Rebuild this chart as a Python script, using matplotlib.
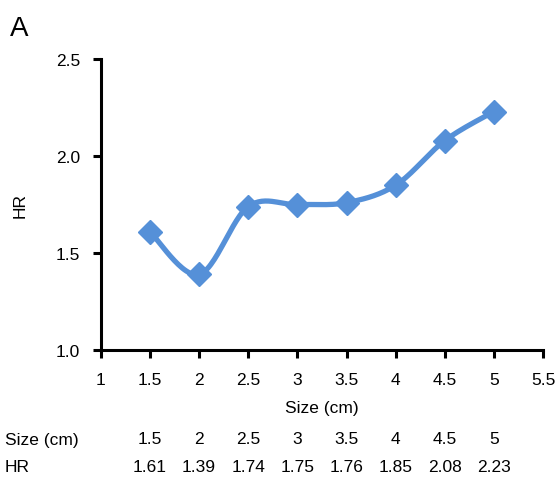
import numpy as np
import matplotlib.pyplot as plt
from matplotlib.transforms import blended_transform_factory

plt.rcParams['font.family'] = ['Liberation Sans', 'DejaVu Sans']

size_cm = [1.5, 2, 2.5, 3, 3.5, 4, 4.5, 5]
hr = [1.61, 1.39, 1.74, 1.75, 1.76, 1.85, 2.08, 2.23]
size_labels = ['1.5', '2', '2.5', '3', '3.5', '4', '4.5', '5']
hr_labels = ['1.61', '1.39', '1.74', '1.75', '1.76', '1.85', '2.08', '2.23']

color = '#5590d8'
fs = 12.5


def smooth(x, y, n=30):
    # Excel-like smoothed line: Catmull-Rom style cubic Bezier between points
    x = np.asarray(x, float)
    y = np.asarray(y, float)
    px = np.concatenate([[x[0]], x, [x[-1]]])
    py = np.concatenate([[y[0]], y, [y[-1]]])
    xs, ys = [], []
    t = np.linspace(0, 1, n)
    for i in range(1, len(px) - 2):
        p0 = np.array([px[i], py[i]])
        p3 = np.array([px[i + 1], py[i + 1]])
        p1 = p0 + (np.array([px[i + 1], py[i + 1]]) - np.array([px[i - 1], py[i - 1]])) / 6
        p2 = p3 - (np.array([px[i + 2], py[i + 2]]) - np.array([px[i], py[i]])) / 6
        b = ((1 - t) ** 3)[:, None] * p0 + (3 * (1 - t) ** 2 * t)[:, None] * p1 \
            + (3 * (1 - t) * t ** 2)[:, None] * p2 + (t ** 3)[:, None] * p3
        xs.extend(b[:, 0])
        ys.extend(b[:, 1])
    return xs, ys


fig = plt.figure(figsize=(5.57, 4.81), dpi=100)
ax = fig.add_axes([0.181, 0.270, 0.794, 0.605])

sx, sy = smooth(size_cm, hr)
ax.plot(sx, sy, color=color, lw=3.8, solid_capstyle='round', zorder=2)
ax.plot(size_cm, hr, ls='none', marker='D', ms=12, color=color, zorder=3)

ax.set_xlim(1, 5.5)
ax.set_ylim(1.0, 2.5)
ax.set_xticks([1, 1.5, 2, 2.5, 3, 3.5, 4, 4.5, 5, 5.5])
ax.set_xticklabels(['1', '1.5', '2', '2.5', '3', '3.5', '4', '4.5', '5', '5.5'])
ax.set_yticks([1.0, 1.5, 2.0, 2.5])
ax.set_yticklabels(['1.0', '1.5', '2.0', '2.5'])
for s in ['top', 'right']:
    ax.spines[s].set_visible(False)
for s in ['left', 'bottom']:
    ax.spines[s].set_linewidth(2.2)
ax.tick_params(axis='x', direction='out', length=6, width=2.2, labelsize=fs, pad=10)
ax.tick_params(axis='y', direction='out', length=6, width=2.2, labelsize=fs, pad=9)
ax.set_xlabel('Size (cm)', fontsize=fs, labelpad=9)
ax.set_ylabel('HR', fontsize=fs, labelpad=20)

fig.text(0.018, 0.94, 'A', fontsize=20, va='center', ha='left')

tr = blended_transform_factory(ax.transData, fig.transFigure)
fig.text(0.009, 1 - 440 / 481, 'Size (cm)', fontsize=fs, va='center', ha='left')
fig.text(0.009, 1 - 468 / 481, 'HR', fontsize=fs, va='center', ha='left')
for xv, sl, hl in zip(size_cm, size_labels, hr_labels):
    ax.text(xv, 1 - 440 / 481, sl, transform=tr, fontsize=fs, ha='center', va='center')
    ax.text(xv, 1 - 468 / 481, hl, transform=tr, fontsize=fs, ha='center', va='center')

fig.savefig('out.png', dpi=100)
